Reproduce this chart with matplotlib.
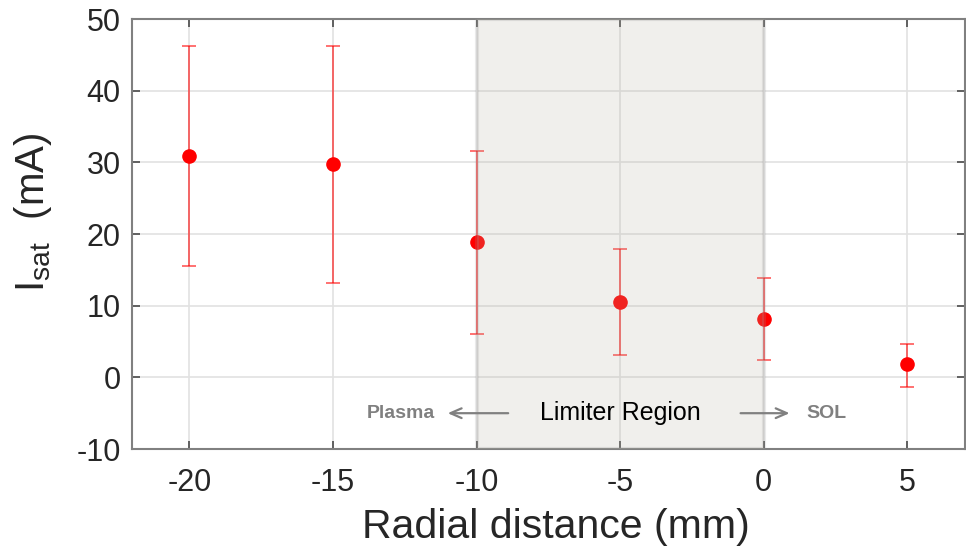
import matplotlib
matplotlib.use("Agg")
import matplotlib.pyplot as plt

# Data
radial_mm = [-20, -15, -10, -5, 0, 5]
isat_mA = [30.9, 29.8, 18.9, 10.5, 8.1, 1.8]
err_upper = [46.3, 46.3, 31.6, 17.9, 13.8, 4.7]
err_lower = [15.6, 13.1, 6.1, 3.1, 2.4, -1.4]
xticks = [-20, -15, -10, -5, 0, 5]
yticks = [-10, 0, 10, 20, 30, 40, 50]
limiter_region = (-10, 0)

plt.rcParams['font.family'] = ['Liberation Sans', 'DejaVu Sans']

fig = plt.figure(figsize=(9.66, 5.56), dpi=100)
ax = fig.add_axes([0.1366, 0.1924, 0.862, 0.7734])

yerr_lo = [v - lo for v, lo in zip(isat_mA, err_lower)]
yerr_hi = [hi - v for v, hi in zip(isat_mA, err_upper)]

ax.errorbar(radial_mm, isat_mA, yerr=[yerr_lo, yerr_hi], fmt='none',
            ecolor=(1, 0, 0, 0.6), elinewidth=1.3, capsize=5, capthick=1.3, zorder=2)
ax.plot(radial_mm, isat_mA, 'o', color='#ff0000', markersize=9.5, zorder=3)

ax.axvspan(limiter_region[0], limiter_region[1], facecolor=(0.71, 0.69, 0.63, 0.2),
           edgecolor=(0.6, 0.6, 0.6, 0.2), lw=3, zorder=4)

ax.set_xlim(-22, 7)
ax.set_ylim(-10, 50)
ax.set_xticks(xticks)
ax.set_yticks(yticks)
ax.set_xticklabels([str(t) for t in xticks])
ax.set_yticklabels([str(t) for t in yticks])

ax.grid(True, color='#e2e2e2', lw=1.2)
ax.set_axisbelow(True)

for s in ax.spines.values():
    s.set_color('#808080')
    s.set_linewidth(1.5)
ax.tick_params(direction='in', length=6, width=1.3, color='#555555',
               top=True, right=True, labelsize=22, labelcolor='#262626', pad=8)
ax.tick_params(axis='x', pad=14)

ax.set_xlabel('Radial distance (mm)', fontsize=29.5, color='#262626')
ax.xaxis.set_label_coords(0.509, -0.137)
ax.set_ylabel(r'$\mathregular{I_{sat}}$  (mA)', fontsize=29, color='#262626')
ax.yaxis.set_label_coords(-0.094, 0.55)

ax.text(-5, -5, 'Limiter Region', ha='center', va='center', fontsize=18, color='black', zorder=5)
ax.annotate('', xy=(-11.1, -5), xytext=(-8.8, -5),
            arrowprops=dict(arrowstyle='->,head_length=0.8,head_width=0.35', color='#808080', lw=1.6), zorder=5)
ax.annotate('', xy=(1.0, -5), xytext=(-0.9, -5),
            arrowprops=dict(arrowstyle='->,head_length=0.8,head_width=0.35', color='#808080', lw=1.6), zorder=5)
ax.text(-12.65, -5, 'Plasma', ha='center', va='center', fontsize=14, fontweight='bold', color='#808080', zorder=5)
ax.text(2.2, -5, 'SOL', ha='center', va='center', fontsize=14, fontweight='bold', color='#808080', zorder=5)

fig.savefig('out.png', dpi=100)
